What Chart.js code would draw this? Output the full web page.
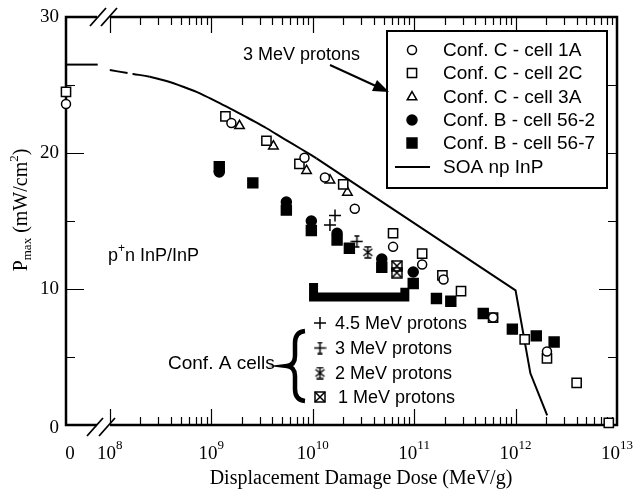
<!DOCTYPE html>
<html>
<head>
<meta charset="utf-8">
<script src="https://cdn.jsdelivr.net/npm/chart.js@4/dist/chart.umd.min.js"></script>
<style>
  body { margin: 0; background: #fff; }
  canvas { display: block; }
</style>
</head>
<body>
<canvas id="myChart" width="634" height="491"></canvas>
<script>
// dose 0 sits left of the axis break, at the axis minimum
const X_ZERO = 3.7e7;

// Conf. C cells (open symbols)
const cell1A_dose = [0, 1.58e9, 8.3e9, 1.32e10, 2.6e10, 6.2e10, 1.2e11, 1.95e11, 6.0e11, 2.04e12];
const cell1A_pmax = [23.6, 22.2, 19.65, 18.2, 15.9, 13.1, 11.8, 10.7, 7.9, 5.4];
const cell2C_dose = [0, 1.38e9, 3.5e9, 7.4e9, 2.0e10, 6.2e10, 1.2e11, 1.9e11, 2.9e11, 6.0e11, 1.23e12, 2.04e12, 4.0e12, 8.3e12];
const cell2C_pmax = [24.5, 22.7, 20.9, 19.2, 17.7, 14.1, 12.6, 11.0, 9.85, 7.9, 6.3, 4.9, 3.1, 0.15];
const cell3A_dose = [1.9e9, 4.1e9, 8.7e9, 1.48e10, 2.2e10];
const cell3A_pmax = [22.0, 20.5, 18.7, 18.0, 17.1];

// Conf. B cells (filled symbols)
const cell562_dose = [1.2e9, 5.5e9, 9.7e9, 1.74e10, 4.8e10, 9.8e10];
const cell562_pmax = [18.6, 16.4, 15.0, 14.1, 12.2, 11.25];
const cell567_dose = [1.2e9, 2.57e9, 5.5e9, 9.7e9, 1.74e10, 2.3e10, 4.8e10, 9.8e10, 1.66e11, 2.3e11, 4.8e11, 9.3e11, 1.6e12, 2.4e12];
const cell567_pmax = [19.0, 17.8, 15.8, 14.3, 13.6, 13.0, 11.6, 10.4, 9.3, 9.1, 8.2, 7.05, 6.55, 6.1];

// Conf. A cells
const confA45_dose = [1.48e10, 1.66e10];
const confA45_pmax = [14.7, 15.4];
const confA3_dose = [2.73e10];
const confA3_pmax = [13.5];
const confA2_dose = [3.5e10];
const confA2_pmax = [12.7];
const confA1_dose = [6.76e10, 6.76e10];
const confA1_pmax = [11.7, 11.2];

// thick bracket mark
const bracket_dose = [1.02e10, 1.02e10, 8.1e10, 8.1e10];
const bracket_pmax = [10.45, 9.41, 9.41, 10.1];

// SOA np InP
const soaZero_dose = [0, 7.6e7];
const soaZero_pmax = [26.5, 26.5];
const soa_dose = [1e8, 1.7e8, 2.48e8, 3.62e8, 5.28e8, 7.73e8, 1.13e9, 1.65e9, 2.4e9, 3.51e9, 5.12e9, 7.48e9, 1.09e10];
const soa_pmax = [26.1, 25.81, 25.61, 25.29, 24.87, 24.39, 23.77, 23.16, 22.5, 21.82, 21.08, 20.35, 19.61];
const soaTail_dose = [1.09e10, 1e12, 1.4e12, 2.05e12];
const soaTail_pmax = [19.61, 9.9, 3.8, 0.7];

const xTickExps = [8, 9, 10, 11, 12, 13];
const yTicks = [0, 10, 20, 30];

const SERIF = '"Liberation Serif", "Times New Roman", serif';
const SANS = '"Liberation Sans", Arial, sans-serif';

function pts(doses, vals) {
    return doses.map((d, i) => ({ x: d === 0 ? X_ZERO : d, y: vals[i] }));
}

function symbol(size, draw) {
    const c = document.createElement('canvas');
    c.width = size;
    c.height = size;
    const g = c.getContext('2d');
    g.strokeStyle = '#000';
    g.lineWidth = 1.5;
    draw(g, size);
    return c;
}

// 3 MeV: plus with caps
const sym3 = symbol(13, (g, s) => {
    g.beginPath();
    g.moveTo(6.5, 0.5); g.lineTo(6.5, 12.5);
    g.moveTo(0.5, 6.5); g.lineTo(12.5, 6.5);
    g.moveTo(4, 1); g.lineTo(9, 1);
    g.moveTo(4, 12); g.lineTo(9, 12);
    g.stroke();
});
// 2 MeV: x with caps
const sym2 = symbol(13, (g, s) => {
    g.beginPath();
    g.moveTo(3, 1); g.lineTo(10, 1);
    g.moveTo(3, 12); g.lineTo(10, 12);
    g.moveTo(6.5, 1); g.lineTo(6.5, 12);
    g.moveTo(2, 3); g.lineTo(11, 10);
    g.moveTo(11, 3); g.lineTo(2, 10);
    g.stroke();
});
// 1 MeV: boxed x
const sym1 = symbol(12, (g, s) => {
    g.strokeRect(1, 1, 10, 10);
    g.beginPath();
    g.moveTo(1, 1); g.lineTo(11, 11);
    g.moveTo(11, 1); g.lineTo(1, 11);
    g.stroke();
});

function marks(label, data, style, radius, filled) {
    return {
        label: label,
        data: data,
        pointStyle: style,
        pointRadius: radius,
        backgroundColor: filled ? '#000' : '#fff',
        borderColor: '#000',
        borderWidth: 1.5,
        showLine: false,
        clip: false
    };
}

function line(data, width, extra) {
    return Object.assign({
        data: data,
        showLine: true,
        pointRadius: 0,
        borderColor: '#000',
        borderWidth: width,
        fill: false,
        clip: false
    }, extra || {});
}

const legendItems = [
    { text: 'Conf. C - cell 1A', style: 'circle', radius: 4.5, filled: false },
    { text: 'Conf. C - cell 2C', style: 'rect', radius: 6.5, filled: false },
    { text: 'Conf. C - cell 3A', style: 'triangle', radius: 5.5, filled: false },
    { text: 'Conf. B - cell 56-2', style: 'circle', radius: 5, filled: true },
    { text: 'Conf. B - cell 56-7', style: 'rect', radius: 7, filled: true },
    { text: 'SOA np InP', style: 'line' }
];

const confAItems = [
    { text: '4.5 MeV protons', style: 'cross', radius: 6 },
    { text: '3 MeV protons', style: sym3 },
    { text: '2 MeV protons', style: sym2 },
    { text: '1 MeV protons', style: sym1 }
];

function drawFrame(chart) {
    const ctx = chart.ctx, a = chart.chartArea;
    const xs = chart.scales.x, ys = chart.scales.y;
    ctx.save();
    ctx.strokeStyle = '#000';
    ctx.lineWidth = 2.5;
    ctx.beginPath();
    ctx.moveTo(a.left, a.top - 1.2); ctx.lineTo(a.left, a.bottom + 1.2);
    ctx.moveTo(a.right, a.top - 1.2); ctx.lineTo(a.right, a.bottom + 1.2);
    [a.top, a.bottom].forEach(y => {
        ctx.moveTo(a.left, y); ctx.lineTo(97, y);
        ctx.moveTo(110, y); ctx.lineTo(a.right, y);
    });
    ctx.stroke();

    // axis break marks
    ctx.lineWidth = 1.8;
    ctx.beginPath();
    [[98, a.top], [109, a.top], [95, a.bottom + 2], [107, a.bottom + 2]].forEach(p => {
        ctx.moveTo(p[0] - 8, p[1] + 9);
        ctx.lineTo(p[0] + 8, p[1] - 9);
    });
    ctx.stroke();

    // inner ticks
    ctx.lineWidth = 1.2;
    ctx.beginPath();
    for (let e = 8; e <= 12; e++) {
        for (let m = 1; m <= 9; m++) {
            const px = Math.round(xs.getPixelForValue(m * Math.pow(10, e))) + 0.5;
            const len = m === 1 ? 16 : 8;
            ctx.moveTo(px, a.bottom); ctx.lineTo(px, a.bottom - len);
            ctx.moveTo(px, a.top); ctx.lineTo(px, a.top + len);
        }
    }
    [5, 10, 15, 20, 25].forEach(v => {
        const py = Math.round(ys.getPixelForValue(v)) + 0.5;
        const len = v % 10 === 0 ? 18 : 9;
        ctx.moveTo(a.left, py); ctx.lineTo(a.left + len, py);
        ctx.moveTo(a.right, py); ctx.lineTo(a.right - len, py);
    });
    ctx.stroke();
    ctx.restore();
}

function drawTexts(chart) {
    const ctx = chart.ctx, a = chart.chartArea;
    const xs = chart.scales.x, ys = chart.scales.y;
    ctx.save();
    ctx.fillStyle = '#000';
    ctx.strokeStyle = '#000';

    // y tick labels
    ctx.font = '19px ' + SERIF;
    ctx.textAlign = 'right';
    ctx.textBaseline = 'middle';
    yTicks.forEach(v => {
        ctx.fillText(String(v), 59, ys.getPixelForValue(v) + (v === 0 ? 3 : 0));
    });

    // x tick labels
    ctx.textBaseline = 'alphabetic';
    ctx.textAlign = 'center';
    ctx.fillText('0', a.left + 4, 459);
    xTickExps.forEach(e => {
        const px = xs.getPixelForValue(Math.pow(10, e));
        ctx.font = '19px ' + SERIF;
        const w1 = ctx.measureText('10').width;
        ctx.font = '13px ' + SERIF;
        const w2 = ctx.measureText(String(e)).width;
        const x0 = px - (w1 + w2) / 2;
        ctx.textAlign = 'left';
        ctx.font = '19px ' + SERIF;
        ctx.fillText('10', x0, 459);
        ctx.font = '13px ' + SERIF;
        ctx.fillText(String(e), x0 + w1, 449);
    });

    // x title
    ctx.font = '20px ' + SERIF;
    ctx.textAlign = 'center';
    ctx.fillText('Displacement Damage Dose (MeV/g)', 361, 484);

    // y title, rotated
    ctx.save();
    ctx.translate(27, 210);
    ctx.rotate(-Math.PI / 2);
    const parts = [
        { t: 'P', f: '20px', dy: 0 },
        { t: 'max', f: '13px', dy: 4 },
        { t: ' (mW/cm', f: '20px', dy: 0 },
        { t: '2', f: '13px', dy: -9 },
        { t: ')', f: '20px', dy: 0 }
    ];
    let total = 0;
    parts.forEach(p => { ctx.font = p.f + ' ' + SERIF; p.w = ctx.measureText(p.t).width; total += p.w; });
    let cx = -total / 2;
    ctx.textAlign = 'left';
    parts.forEach(p => { ctx.font = p.f + ' ' + SERIF; ctx.fillText(p.t, cx, p.dy); cx += p.w; });
    ctx.restore();

    // legend box
    ctx.lineWidth = 2;
    ctx.fillStyle = '#fff';
    ctx.fillRect(387, 31, 220, 157);
    ctx.strokeRect(387, 31, 220, 157);
    ctx.fillStyle = '#000';
    ctx.font = '19px ' + SANS;
    ctx.textAlign = 'left';
    ctx.textBaseline = 'middle';
    const rows = [50, 73, 97, 120, 143, 167];
    legendItems.forEach((it, i) => {
        const y = rows[i];
        if (it.style === 'line') {
            ctx.lineWidth = 2;
            ctx.beginPath();
            ctx.moveTo(395, y); ctx.lineTo(430, y);
            ctx.stroke();
        } else {
            ctx.fillStyle = it.filled ? '#000' : '#fff';
            ctx.lineWidth = 1.5;
            Chart.helpers.drawPoint(ctx, { pointStyle: it.style, radius: it.radius, borderWidth: 1.5, rotation: 0 }, 412, y);
            ctx.fillStyle = '#000';
        }
        ctx.fillText(it.text, 443, y + 1);
    });

    // annotations
    ctx.font = '18px ' + SANS;
    ctx.fillText('3 MeV protons', 243, 55);
    ctx.lineWidth = 2;
    ctx.beginPath();
    ctx.moveTo(330, 65); ctx.lineTo(378, 87);
    ctx.stroke();
    ctx.beginPath();
    ctx.moveTo(389, 92); ctx.lineTo(372, 91); ctx.lineTo(377, 80);
    ctx.closePath();
    ctx.fill();

    // p+n InP/InP
    ctx.font = '18px ' + SANS;
    ctx.fillText('p', 108, 256);
    let px = 108 + ctx.measureText('p').width;
    ctx.font = '12px ' + SANS;
    ctx.fillText('+', px, 249);
    px += ctx.measureText('+').width;
    ctx.font = '18px ' + SANS;
    ctx.fillText('n InP/InP', px, 256);

    // Conf. A group
    ctx.font = '19px ' + SANS;
    ctx.fillText('Conf. A cells', 168, 364);
    ctx.lineWidth = 4.5;
    ctx.beginPath();
    ctx.moveTo(305, 331);
    ctx.quadraticCurveTo(295, 332, 295, 343);
    ctx.lineTo(295, 356);
    ctx.quadraticCurveTo(295, 365, 287, 366);
    ctx.quadraticCurveTo(295, 367, 295, 376);
    ctx.lineTo(295, 389);
    ctx.quadraticCurveTo(295, 400, 305, 401);
    ctx.stroke();

    ctx.font = '18px ' + SANS;
    const subRows = [323, 348, 373, 397];
    confAItems.forEach((it, i) => {
        const y = subRows[i];
        if (typeof it.style === 'string') {
            ctx.lineWidth = 1.5;
            Chart.helpers.drawPoint(ctx, { pointStyle: it.style, radius: it.radius, borderWidth: 1.5, rotation: 0 }, 320, y);
        } else {
            ctx.drawImage(it.style, 320 - it.style.width / 2, y - it.style.height / 2);
        }
        ctx.fillText(it.text, i === 3 ? 338 : 335, y + 1);
    });

    ctx.restore();
}

const framePlugin = {
    id: 'frame',
    beforeDatasetsDraw: drawFrame,
    afterDraw: drawTexts
};

const CHART = document.getElementById('myChart');
const wykres = new Chart(CHART, {
    type: 'scatter',
    data: {
        datasets: [
            marks('Conf. C - cell 1A', pts(cell1A_dose, cell1A_pmax), 'circle', 4.5, false),
            marks('Conf. C - cell 2C', pts(cell2C_dose, cell2C_pmax), 'rect', 6.5, false),
            marks('Conf. C - cell 3A', pts(cell3A_dose, cell3A_pmax), 'triangle', 5.5, false),
            marks('Conf. B - cell 56-2', pts(cell562_dose, cell562_pmax), 'circle', 5, true),
            marks('Conf. B - cell 56-7', pts(cell567_dose, cell567_pmax), 'rect', 7, true),
            marks('4.5 MeV protons', pts(confA45_dose, confA45_pmax), 'cross', 6, false),
            marks('3 MeV protons', pts(confA3_dose, confA3_pmax), sym3, 6, false),
            marks('2 MeV protons', pts(confA2_dose, confA2_pmax), sym2, 6, false),
            marks('1 MeV protons', pts(confA1_dose, confA1_pmax), sym1, 6, false),
            line(pts(bracket_dose, bracket_pmax), 9, { borderJoinStyle: 'miter', borderCapStyle: 'butt' }),
            line(pts(soaZero_dose, soaZero_pmax), 2),
            line(pts(soa_dose, soa_pmax), 2, {
                cubicInterpolationMode: 'monotone',
                segment: { borderDash: c => c.p0DataIndex < 2 ? [18, 5] : undefined }
            }),
            line(pts(soaTail_dose, soaTail_pmax), 2, { tension: 0 })
        ]
    },
    options: {
        responsive: false,
        animation: false,
        layout: { padding: { top: 17, right: 17, left: 0, bottom: 0 } },
        plugins: {
            legend: { display: false },
            tooltip: { enabled: false }
        },
        scales: {
            x: {
                type: 'logarithmic',
                min: X_ZERO,
                max: 1e13,
                grid: { display: false },
                border: { display: false },
                ticks: { display: false },
                afterFit: s => { s.height = 66; }
            },
            y: {
                min: 0,
                max: 30,
                grid: { display: false },
                border: { display: false },
                ticks: { display: false },
                afterFit: s => { s.width = 66; }
            }
        }
    },
    plugins: [framePlugin]
});
</script>
</body>
</html>
